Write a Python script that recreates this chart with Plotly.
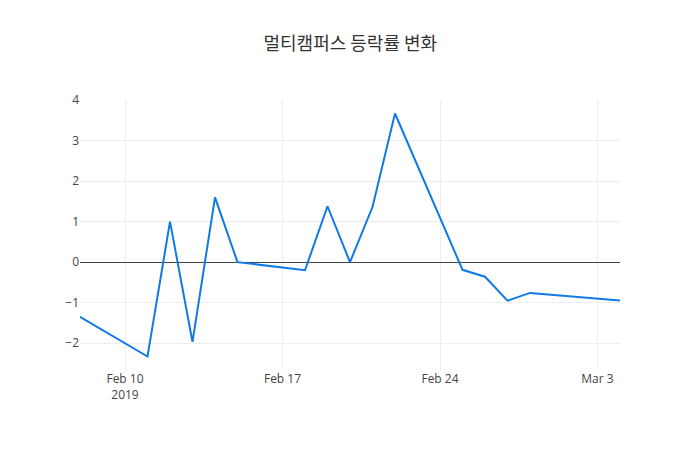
import plotly.graph_objects as go

dates = ["2019-02-08", "2019-02-11", "2019-02-12", "2019-02-13", "2019-02-14",
         "2019-02-15", "2019-02-18", "2019-02-19", "2019-02-20", "2019-02-21",
         "2019-02-22", "2019-02-25", "2019-02-26", "2019-02-27", "2019-02-28",
         "2019-03-04"]
change_rate = [-1.35, -2.33, 1.0, -1.97, 1.6,
               0.0, -0.2, 1.38, 0.0, 1.36,
               3.67, -0.19, -0.36, -0.95, -0.76,
               -0.95]

fig = go.Figure(go.Scatter(
    x=dates, y=change_rate, mode="lines",
    line=dict(color="#0f7ae5", width=2),
))

fig.update_layout(
    template="none",
    width=700, height=450,
    margin=dict(l=72, r=88, t=92, b=88),
    paper_bgcolor="white", plot_bgcolor="white",
    font=dict(family="Open Sans, Noto Sans CJK KR, sans-serif", size=12, color="#444"),
    title=dict(text="멀티캠퍼스 등락률 변화", x=0.489, xanchor="center",
               y=0.92, yanchor="middle",
               font=dict(size=18, family="Noto Sans CJK KR, sans-serif", color="#333")),
    xaxis=dict(showgrid=True, gridcolor="#eee", zeroline=False, showline=False,
               ticks="", automargin=False),
    yaxis=dict(showgrid=True, gridcolor="#eee", zeroline=True, zerolinecolor="#444",
               zerolinewidth=1, showline=False, ticks="", dtick=1, automargin=False),
    showlegend=False,
)

fig.write_html("out.html")
